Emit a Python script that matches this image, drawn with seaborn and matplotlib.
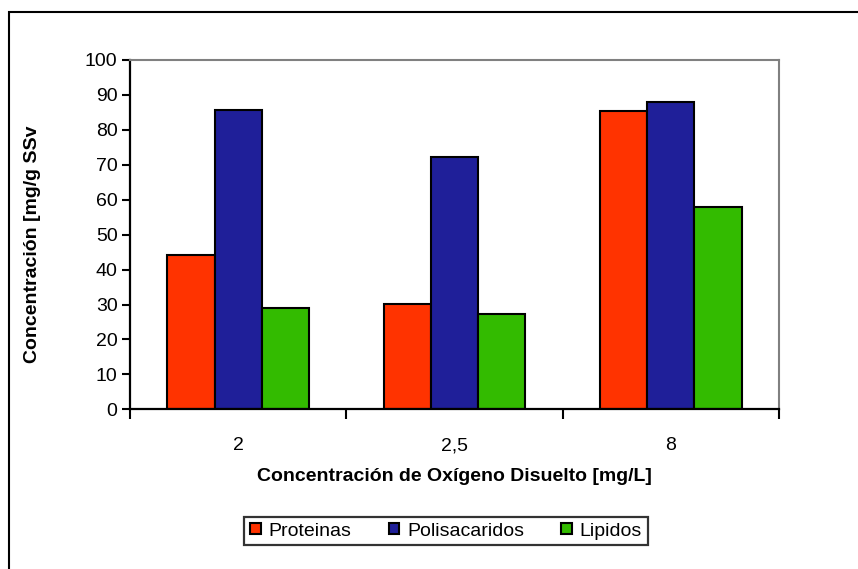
import matplotlib
matplotlib.use("Agg")
import matplotlib.pyplot as plt
import seaborn as sns
import pandas as pd
from matplotlib.patches import Rectangle, Patch
from matplotlib.ticker import FixedLocator

categories = ["2", "2,5", "8"]
series = ["Proteinas", "Polisacaridos", "Lipidos"]
proteinas = [44.1, 30.1, 85.5]
polisacaridos = [85.7, 72.3, 88.1]
lipidos = [29.1, 27.4, 58.0]
colors = ["#FF3300", "#1F1F99", "#33BB00"]

rows = []
for name, vals in zip(series, [proteinas, polisacaridos, lipidos]):
    for c, v in zip(categories, vals):
        rows.append({"cat": c, "serie": name, "val": v})
df = pd.DataFrame(rows)

sns.set_theme(style="white")
plt.rcParams["font.family"] = ["Liberation Sans", "DejaVu Sans"]
plt.rcParams["text.color"] = "black"
plt.rcParams["axes.labelcolor"] = "black"
plt.rcParams["xtick.color"] = "black"
plt.rcParams["ytick.color"] = "black"
plt.rcParams["xtick.labelcolor"] = "black"
plt.rcParams["ytick.labelcolor"] = "black"

fs = 14
fig = plt.figure(figsize=(8.58, 5.69), dpi=100)
ax = fig.add_axes([130/858, 1-409.3/569, (779-130)/858, (409.3-60)/569])

sns.barplot(data=df, x="cat", y="val", hue="serie", order=categories,
            hue_order=series, palette=colors, width=0.656, gap=0,
            edgecolor="black", linewidth=1.5, saturation=1, ax=ax, legend=False)

ax.set_ylim(0, 100)
ax.set_xlim(-0.5, 2.5)
ax.set_yticks(range(0, 101, 10))
ax.tick_params(axis="y", length=6, width=1.5, color="black", pad=3,
               labelsize=fs, left=True, direction="out", labelcolor="black")
ax.set_xticks(range(len(categories)))
ax.set_xticklabels(categories)
ax.tick_params(axis="x", which="major", length=0, pad=20, labelsize=fs,
               labelcolor="black")
ax.xaxis.set_minor_locator(FixedLocator([-0.5, 0.5, 1.5, 2.5]))
ax.tick_params(axis="x", which="minor", length=7, width=1.5, color="black",
               bottom=True, direction="out")

for s in ["left", "bottom"]:
    ax.spines[s].set_color("black")
    ax.spines[s].set_linewidth(1.6)
for s in ["top", "right"]:
    ax.spines[s].set_color("#808080")
    ax.spines[s].set_linewidth(1.5)

ax.set_xlabel("Concentración de Oxígeno Disuelto [mg/L]", fontsize=fs,
              fontweight="bold", labelpad=10, color="black")
ax.set_ylabel("")
fig.text(33/858, 1-244/569, "Concentración [mg/g SSv", rotation=90,
         ha="center", va="center", fontsize=fs, fontweight="bold", color="black")

handles = [Patch(facecolor=c, edgecolor="black", linewidth=1.5) for c in colors]
leg = fig.legend(handles, series, loc="center", bbox_to_anchor=(446/858, 1-531/569),
                 ncol=3, fontsize=fs, frameon=True, fancybox=False,
                 handlelength=0.55, handleheight=0.55, handletextpad=0.4,
                 columnspacing=1.9, borderpad=0.3, labelcolor="black")
leg.get_frame().set_edgecolor("black")
leg.get_frame().set_linewidth(1.6)

fig.patches.append(Rectangle((9/858, -0.1), 1.2, 1.1 - 12/569,
                             transform=fig.transFigure, fill=False,
                             edgecolor="black", linewidth=1.5))

fig.savefig("out.png", dpi=100)
